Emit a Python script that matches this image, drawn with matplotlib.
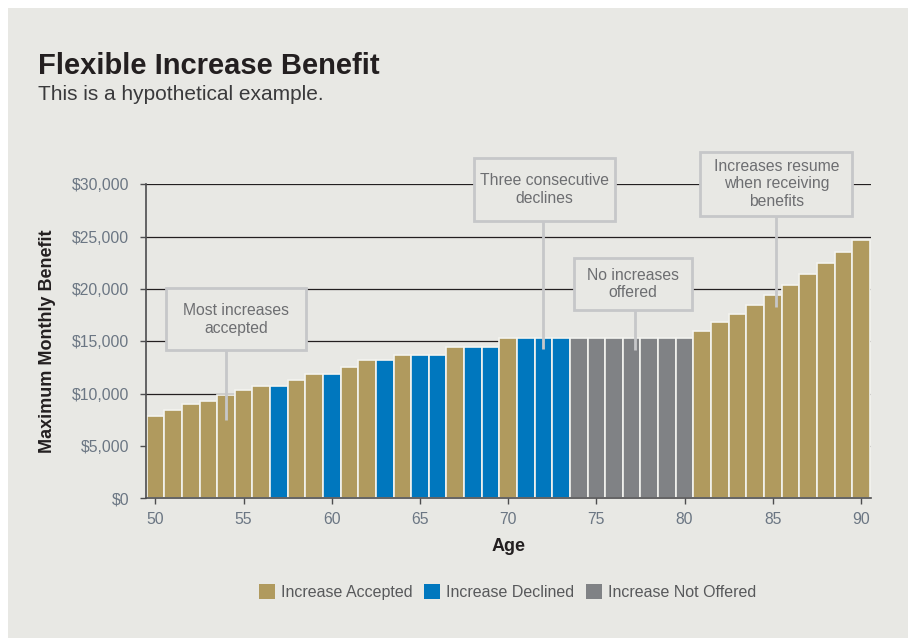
import matplotlib
matplotlib.use("Agg")
import matplotlib.pyplot as plt
from matplotlib.patches import Rectangle, Patch

plt.rcParams['font.family'] = ['Liberation Sans', 'DejaVu Sans']

# data
ages = list(range(50, 91))
benefit = [7900, 8400, 9000, 9300, 9900, 10300, 10700, 10700, 11300, 11900,
           11900, 12500, 13200, 13200, 13700, 13700, 13700, 14500, 14500, 14500,
           15300, 15300, 15300, 15300, 15300, 15300, 15300, 15300, 15300, 15300,
           15300, 16000, 16800, 17600, 18500, 19400, 20400, 21400, 22500, 23500,
           24700]
status = ['A', 'A', 'A', 'A', 'A', 'A', 'A', 'D', 'A', 'A',
          'D', 'A', 'A', 'D', 'A', 'D', 'D', 'A', 'D', 'D',
          'A', 'D', 'D', 'D', 'N', 'N', 'N', 'N', 'N', 'N',
          'N', 'A', 'A', 'A', 'A', 'A', 'A', 'A', 'A', 'A',
          'A']
status_names = {'A': 'Increase Accepted', 'D': 'Increase Declined', 'N': 'Increase Not Offered'}
yticks = [0, 5000, 10000, 15000, 20000, 25000, 30000]
xticks = [50, 55, 60, 65, 70, 75, 80, 85, 90]

# callouts: text, pointer age, pointer value
notes = ["Most increases\naccepted", "Three consecutive\ndeclines",
         "No increases\noffered", "Increases resume\nwhen receiving\nbenefits"]
note_age = [54, 72, 77.2, 85.2]
note_val = [7500, 14300, 14200, 18300]

# callout box layout (centre x, centre y, width, height) in data units
note_box = [(54.56, 17100, 7.95, 5900), (72.06, 29500, 8.0, 5960),
            (77.06, 20450, 6.7, 4970), (85.2, 30030, 8.6, 6050)]

bg = '#e8e8e4'
colors = {'A': '#b09a5e', 'D': '#0077be', 'N': '#808285'}
box_line = '#c6c7c9'
tick_col = '#6b7683'

fig = plt.figure(figsize=(9.08, 6.38), dpi=100)
fig.patch.set_facecolor('white')
fig.patches.append(Rectangle((7.5 / 908, 0), 1, 1 - 7.5 / 638,
                             transform=fig.transFigure, facecolor=bg,
                             edgecolor='none', zorder=-10))

ax = fig.add_axes([145.7 / 908, 1 - 498.3 / 638, (870.7 - 145.7) / 908, (498.3 - 184.3) / 638])
ax.set_facecolor('none')

ax.bar(ages, benefit, width=1.0, color=[colors[s] for s in status],
       edgecolor='#f3f3ef', linewidth=1.2, zorder=2)

ax.set_xlim(49.45, 90.55)
ax.set_ylim(0, 30000)
ax.set_yticks(yticks)
ax.set_yticklabels(['${:,}'.format(v) for v in yticks])
ax.set_xticks(xticks)
ax.yaxis.grid(True, color='#231f20', linewidth=0.9)
ax.set_axisbelow(True)

for side in ['top', 'right']:
    ax.spines[side].set_visible(False)
for side in ['left', 'bottom']:
    ax.spines[side].set_color('#4d4d4f')
    ax.spines[side].set_linewidth(1.2)

ax.tick_params(axis='both', colors='#4d4d4f', labelcolor=tick_col, labelsize=11.3,
               length=4, width=1.0)
ax.tick_params(axis='y', pad=8)
ax.tick_params(axis='x', pad=6)

ax.set_xlabel('Age', fontsize=13, fontweight='bold', color='#231f20', labelpad=8)
ax.set_ylabel('Maximum Monthly Benefit', fontsize=13, fontweight='bold',
              color='#231f20', labelpad=11)

for txt, a, v, (cx, cy, w, h) in zip(notes, note_age, note_val, note_box):
    ax.plot([a, a], [v, cy], color=box_line, linewidth=2, zorder=3,
            solid_capstyle='butt', clip_on=False)
    ax.add_patch(Rectangle((cx - w / 2, cy - h / 2), w, h, facecolor=bg,
                           edgecolor=box_line, linewidth=2, zorder=4, clip_on=False))
    ax.text(cx, cy, txt, ha='center', va='center', fontsize=11.3,
            color='#6d6e71', zorder=5, clip_on=False)

fig.text(38 / 908, 1 - 74 / 638, 'Flexible Increase Benefit', fontsize=21,
         fontweight='bold', color='#231f20', va='baseline', ha='left')
fig.text(38 / 908, 1 - 99.5 / 638, 'This is a hypothetical example.', fontsize=15,
         color='#3a3a3c', va='baseline', ha='left')

handles = [Patch(facecolor=colors[k], edgecolor='none', label=status_names[k])
           for k in ['A', 'D', 'N']]
leg = fig.legend(handles=handles, loc='center', ncol=3, frameon=False,
                 bbox_to_anchor=(507.5 / 908, 1 - 592.3 / 638), fontsize=11.5,
                 handlelength=1.0, handleheight=1.0, handletextpad=0.35,
                 columnspacing=0.75, borderpad=0)
for t in leg.get_texts():
    t.set_color('#58595b')

fig.savefig('out.png', dpi=100)
